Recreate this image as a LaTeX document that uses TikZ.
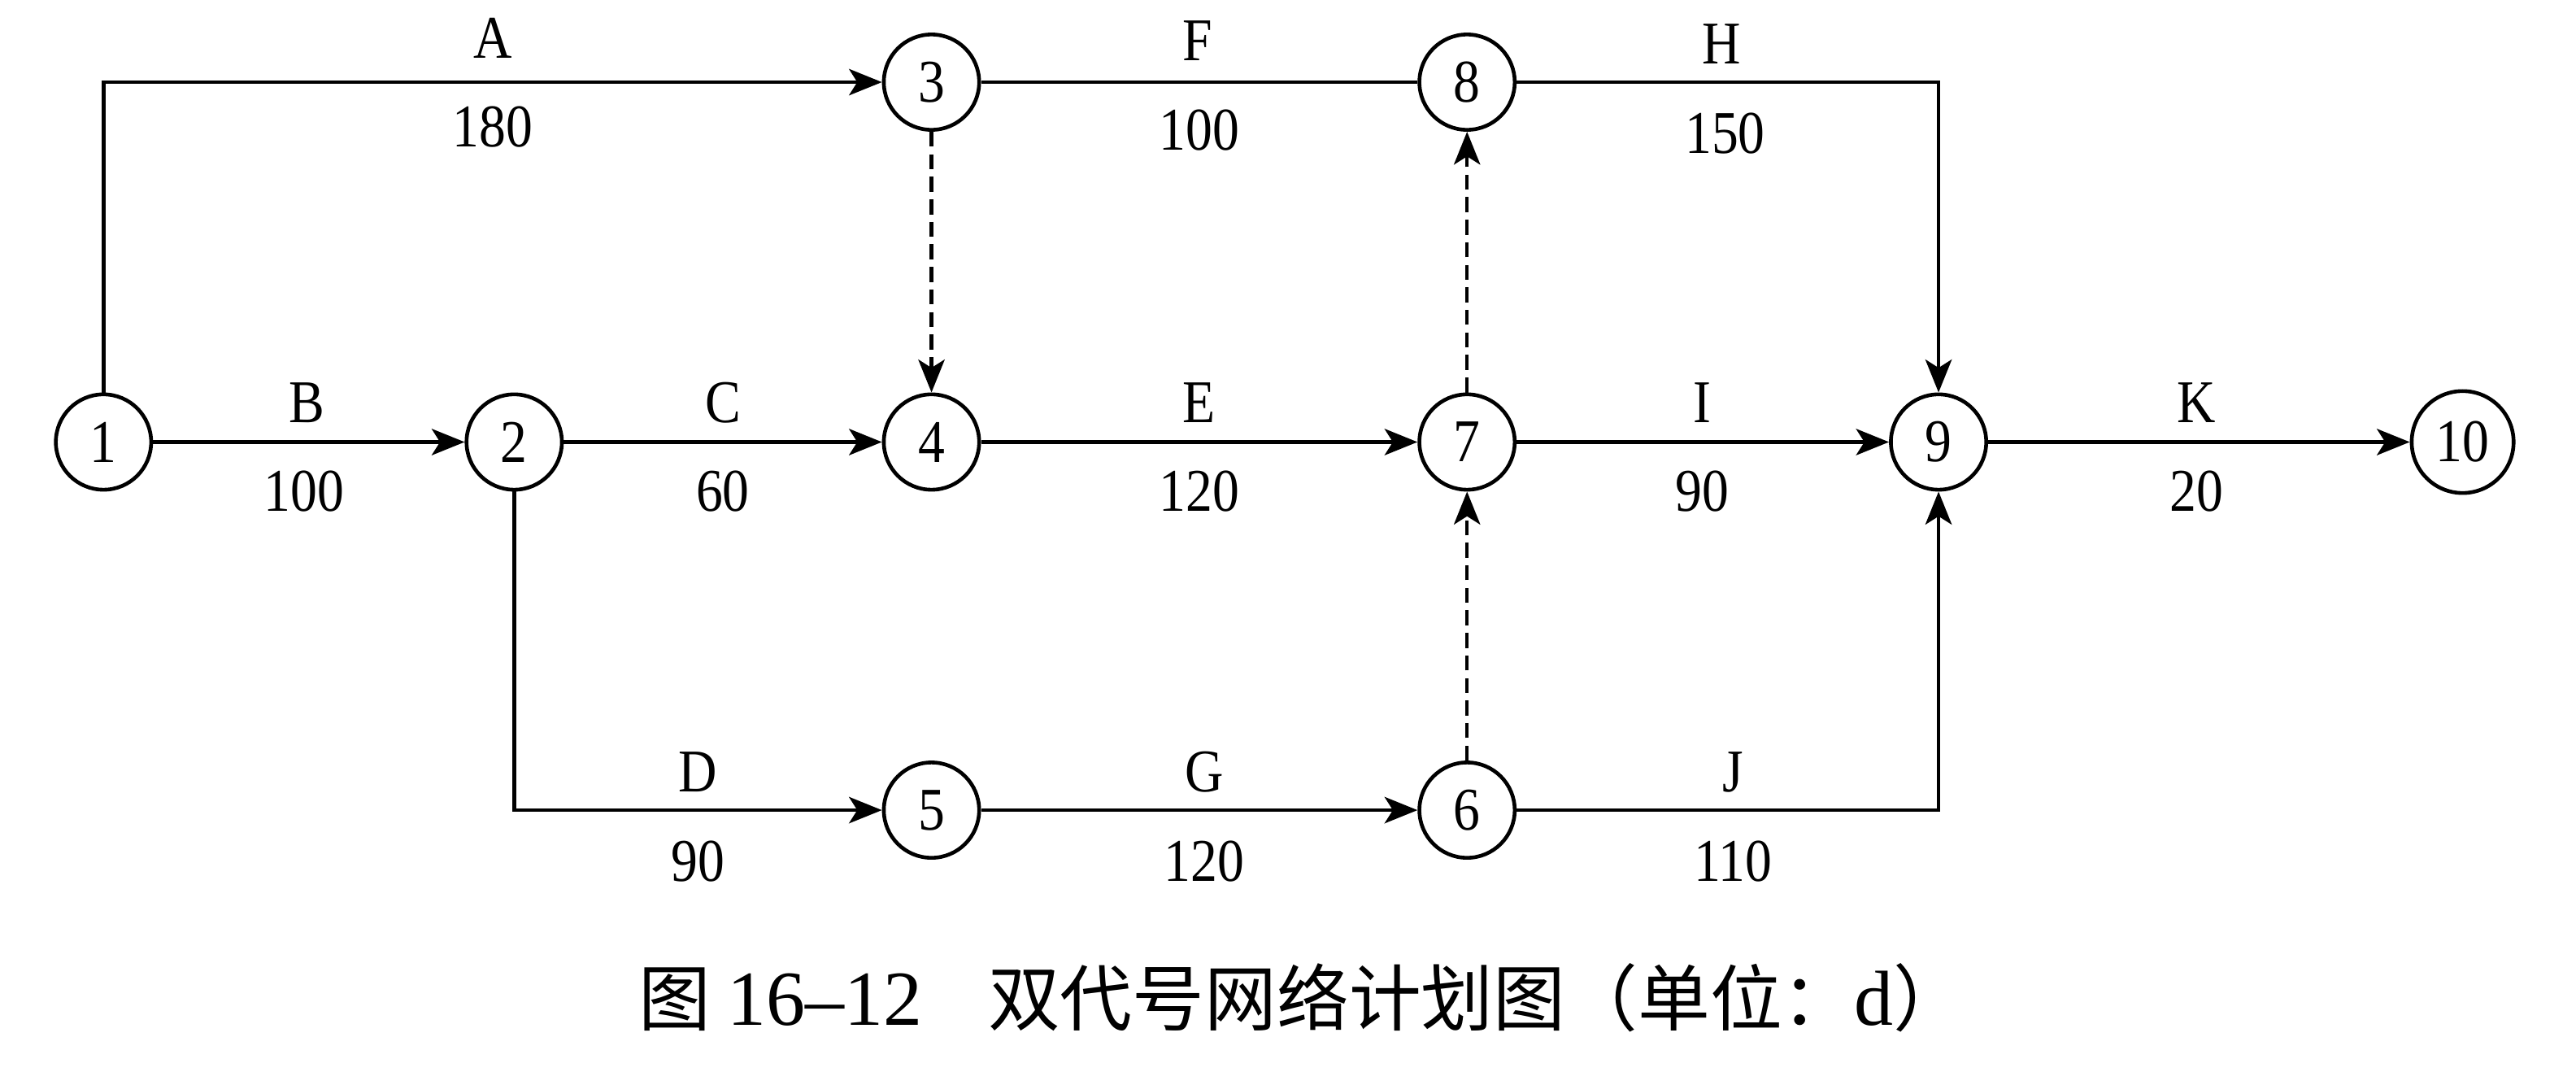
\documentclass[tikz,border=0pt]{standalone}
\usepackage{fontspec}
\setmainfont{Liberation Serif}[FakeStretch=0.88]
\newfontfamily\capfont{Liberation Serif}
\newfontfamily\cjk{Noto Sans CJK SC}
\usetikzlibrary{arrows.meta}
\begin{document}
\begin{tikzpicture}[x=0.01cm,y=-0.01cm,
 ev/.style={circle,draw,line width=0.65pt,minimum size=0.58cm,inner sep=0pt,font=\fontsize{10.5}{12}\selectfont},
 lab/.style={inner sep=0pt,font=\fontsize{10.5}{12}\selectfont},
 tip/.style={-{Stealth[length=0.2cm,width=0.16cm,inset=0.05cm]}},
 act/.style={line width=0.65pt,tip},
 plain/.style={line width=0.65pt},
 dum/.style={line width=0.6pt,dash pattern=on 2.6pt off 1.3pt,tip}]
\useasboundingbox (0,0) rectangle (1568,652);
% events
\node[ev] (n1) at (63,269) {1};
\node[ev] (n2) at (313,269) {2};
\node[ev] (n3) at (567,50) {3};
\node[ev] (n4) at (567,269) {4};
\node[ev] (n5) at (567,493) {5};
\node[ev] (n6) at (893,493) {6};
\node[ev] (n7) at (893,269) {7};
\node[ev] (n8) at (893,50) {8};
\node[ev] (n9) at (1180,269) {9};
\node[ev,minimum size=0.62cm] (n10) at (1499,269) {10};
% activities
\draw[act] (n1) |- (n3);
\draw[act] (n1) -- (n2);
\draw[act] (n2) -- (n4);
\draw[act] (n2) |- (n5);
\draw[plain] (n3) -- (n8);
\draw[act] (n4) -- (n7);
\draw[act] (n5) -- (n6);
\draw[act] (n8) -| (n9);
\draw[act] (n7) -- (n9);
\draw[act] (n6) -| (n9);
\draw[act] (n9) -- (n10);
% dummies
\draw[dum] (n3) -- (n4);
\draw[dum] (n7) -- (n8);
\draw[dum] (n6) -- (n7);
% labels
\node[lab] (lA) at (300,23) {A};
\node[lab] (dA) at (300,77) {180};
\node[lab] (lF) at (729,25) {F};
\node[lab] (dF) at (730,79) {100};
\node[lab] (lH) at (1048,27) {H};
\node[lab] (dH) at (1050,81) {150};
\node[lab] (lB) at (187,245) {B};
\node[lab] (dB) at (185,299) {100};
\node[lab] (lC) at (440,245) {C};
\node[lab] (dC) at (440,299) {60};
\node[lab] (lE) at (730,245) {E};
\node[lab] (dE) at (730,299) {120};
\node[lab] (lI) at (1036,245) {I};
\node[lab] (dI) at (1036,299) {90};
\node[lab] (lK) at (1337,245) {K};
\node[lab] (dK) at (1337,299) {20};
\node[lab] (lD) at (425,470) {D};
\node[lab] (dD) at (425,524) {90};
\node[lab] (lG) at (733,470) {G};
\node[lab] (dG) at (733,524) {120};
\node[lab] (lJ) at (1055,470) {J};
\node[lab] (dJ) at (1055,524) {110};
% caption
\node[inner sep=0pt,anchor=west,font=\fontsize{12.5}{14}\selectfont] (cap) at (388,607)
  {{\cjk 图}\hspace{0.1cm}{\capfont\fontsize{13.5}{14}\selectfont 16–12}\hspace{0.4cm}{\cjk 双代号网络计划图（单位：}{\capfont\fontsize{13.5}{14}\selectfont d}{\cjk ）}};
\end{tikzpicture}
\end{document}
